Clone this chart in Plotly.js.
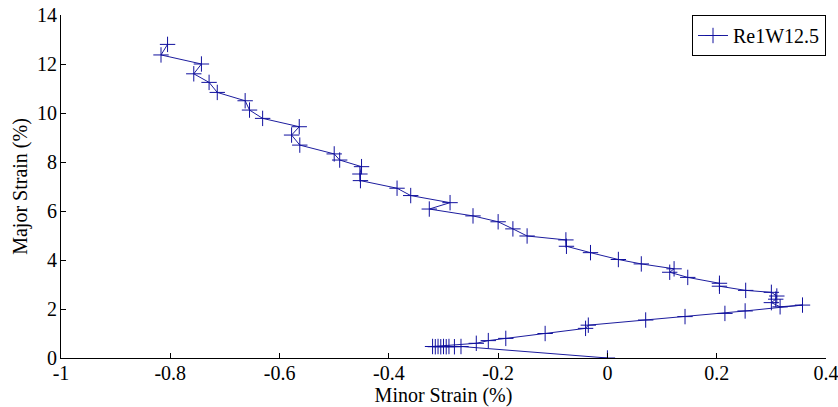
<!DOCTYPE html>
<html>
<head>
<meta charset="utf-8">
<script src="https://cdn.plot.ly/plotly-3.0.1.min.js"></script>
<style>html,body{margin:0;padding:0;background:#fff;}#chart{width:838px;height:407px;}</style>
</head>
<body>
<div id="chart"></div>
<script>
const seriesName = "Re1W12.5";
const minorStrain = [
  0.0, -0.268, -0.28, -0.29, -0.295, -0.30, -0.305, -0.31, -0.315, -0.32,
  -0.24, -0.218, -0.186, -0.114, -0.04, -0.035, 0.07, 0.142, 0.215, 0.252,
  0.357, 0.316, 0.30, 0.308, 0.31, 0.30, 0.253, 0.205, 0.205, 0.147,
  0.114, 0.122, 0.062, 0.02, -0.031, -0.075, -0.076, -0.147, -0.173, -0.20,
  -0.246, -0.326, -0.288, -0.36, -0.385, -0.452, -0.453, -0.45, -0.49, -0.50,
  -0.563, -0.578, -0.564, -0.631, -0.655, -0.663, -0.714, -0.729, -0.757, -0.743,
  -0.817, -0.805
];
const majorStrain = [
  0.0, 0.47, 0.46, 0.47, 0.46, 0.47, 0.46, 0.47, 0.46, 0.47,
  0.60, 0.71, 0.80, 1.00, 1.21, 1.34, 1.55, 1.69, 1.82, 1.92,
  2.16, 2.09, 2.26, 2.40, 2.53, 2.68, 2.76, 2.93, 3.05, 3.29,
  3.50, 3.64, 3.84, 4.02, 4.30, 4.56, 4.82, 4.98, 5.27, 5.56,
  5.80, 6.08, 6.34, 6.63, 6.93, 7.24, 7.51, 7.81, 8.08, 8.33,
  8.69, 9.10, 9.44, 9.78, 10.12, 10.50, 10.84, 11.25, 11.60, 12.00,
  12.37, 12.80
];
const xTickVals = [-1, -0.8, -0.6, -0.4, -0.2, 0, 0.2, 0.4];
const xTickText = ["-1", "-0.8", "-0.6", "-0.4", "-0.2", "0", "0.2", "0.4"];
const yTickVals = [0, 2, 4, 6, 8, 10, 12, 14];
const yTickText = ["0", "2", "4", "6", "8", "10", "12", "14"];

const fam = "Liberation Serif";
const tickFont = {family: fam, size: 20, color: "#000"};
const titleFont = {family: fam, size: 20, color: "#000"};
const legendFont = {family: fam, size: 20, color: "#000"};

const trace = {
  x: minorStrain, y: majorStrain, name: seriesName,
  type: "scatter", mode: "lines+markers",
  line: {color: "#1c1c9e", width: 1},
  marker: {symbol: "cross-thin-open", size: 11, line: {color: "#10109e", width: 1}, color: "#10109e"},
  showlegend: true
};

const layout = {
  width: 838, height: 407,
  margin: {l: 61, r: 12, t: 15, b: 49},
  paper_bgcolor: "#fff", plot_bgcolor: "#fff",
  font: tickFont,
  showlegend: true,
  legend: {x: 1, y: 1, xanchor: "right", yanchor: "top", bordercolor: "#000", borderwidth: 1, bgcolor: "#fff", font: legendFont},
  xaxis: {
    range: [-1, 0.4], tickvals: xTickVals, ticktext: xTickText,
    showgrid: false, zeroline: false, showline: true, linecolor: "#000", linewidth: 1,
    ticks: "inside", ticklen: 5, tickcolor: "#000", tickfont: tickFont,
    ticklabelstandoff: -3, ticklabeloverflow: "allow",
    title: {text: "Minor Strain (%)", font: titleFont, standoff: 0}
  },
  yaxis: {
    range: [0, 14], tickvals: yTickVals, ticktext: yTickText,
    showgrid: false, zeroline: false, showline: true, linecolor: "#000", linewidth: 1,
    ticks: "inside", ticklen: 5, tickcolor: "#000", tickfont: tickFont,
    ticklabelstandoff: -1, ticklabeloverflow: "allow",
    title: {text: "Major Strain (%)", font: titleFont, standoff: 4}
  }
};

Plotly.newPlot("chart", [trace], layout, {displayModeBar: false, staticPlot: true});
</script>
</body>
</html>
